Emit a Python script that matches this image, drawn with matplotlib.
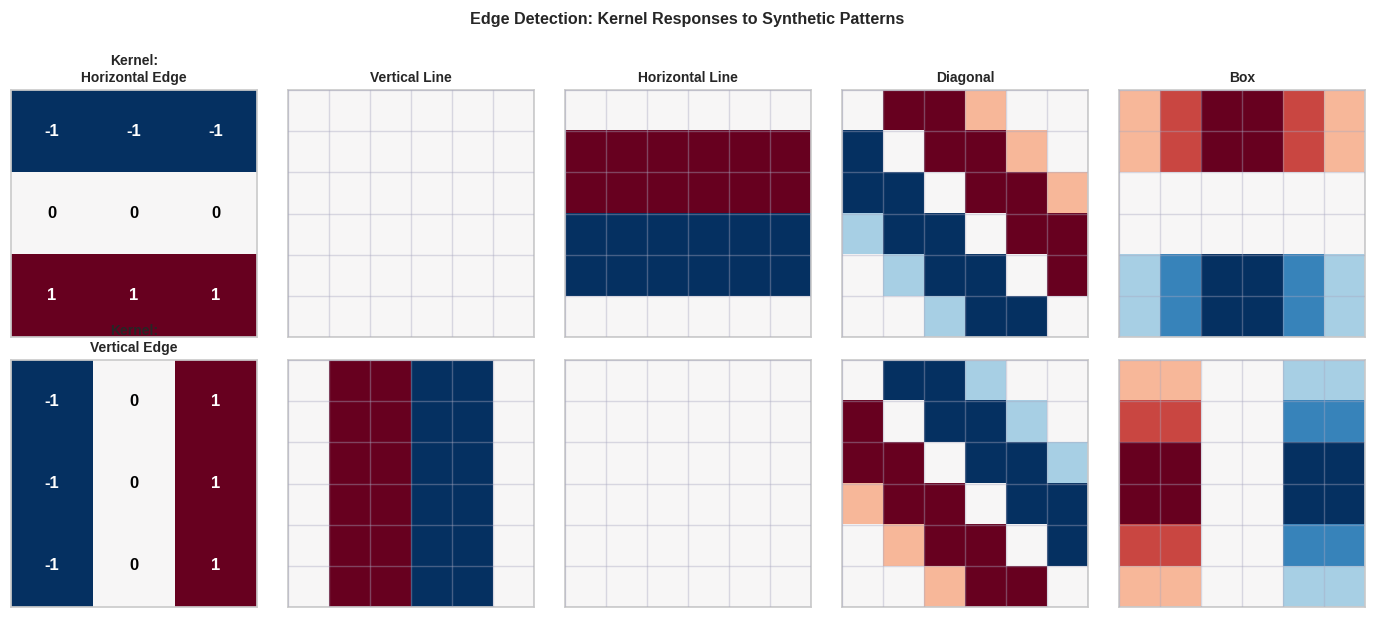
import numpy as np
import matplotlib
matplotlib.use("Agg")
import matplotlib.pyplot as plt
import seaborn as sns

sns.set_style("whitegrid")
plt.rcParams['font.family'] = ['Liberation Sans', 'DejaVu Sans']

# kernels
k_horizontal = np.array([[-1, -1, -1],
                         [0, 0, 0],
                         [1, 1, 1]])
k_vertical = np.array([[-1, 0, 1],
                       [-1, 0, 1],
                       [-1, 0, 1]])
kernel_titles = ["Kernel:\nHorizontal Edge", "Kernel:\nVertical Edge"]

pattern_names = ["Vertical Line", "Horizontal Line", "Diagonal", "Box"]

# responses to the horizontal edge kernel (6x6)
h_vline = np.zeros((6, 6))
h_hline = np.array([[0, 0, 0, 0, 0, 0],
                    [3, 3, 3, 3, 3, 3],
                    [3, 3, 3, 3, 3, 3],
                    [-3, -3, -3, -3, -3, -3],
                    [-3, -3, -3, -3, -3, -3],
                    [0, 0, 0, 0, 0, 0]])
h_diag = np.array([[0, 3, 3, 1, 0, 0],
                   [-3, 0, 3, 3, 1, 0],
                   [-3, -3, 0, 3, 3, 1],
                   [-1, -3, -3, 0, 3, 3],
                   [0, -1, -3, -3, 0, 3],
                   [0, 0, -1, -3, -3, 0]])
h_box = np.array([[1, 2, 3, 3, 2, 1],
                  [1, 2, 3, 3, 2, 1],
                  [0, 0, 0, 0, 0, 0],
                  [0, 0, 0, 0, 0, 0],
                  [-1, -2, -3, -3, -2, -1],
                  [-1, -2, -3, -3, -2, -1]])

# responses to the vertical edge kernel (6x6)
v_vline = np.array([[0, 3, 3, -3, -3, 0]] * 6)
v_hline = np.zeros((6, 6))
v_diag = np.array([[0, -3, -3, -1, 0, 0],
                   [3, 0, -3, -3, -1, 0],
                   [3, 3, 0, -3, -3, -1],
                   [1, 3, 3, 0, -3, -3],
                   [0, 1, 3, 3, 0, -3],
                   [0, 0, 1, 3, 3, 0]])
v_box = np.array([[1, 1, 0, 0, -1, -1],
                  [2, 2, 0, 0, -2, -2],
                  [3, 3, 0, 0, -3, -3],
                  [3, 3, 0, 0, -3, -3],
                  [2, 2, 0, 0, -2, -2],
                  [1, 1, 0, 0, -1, -1]])

kernels = [k_horizontal, k_vertical]
responses = [[h_vline, h_hline, h_diag, h_box],
             [v_vline, v_hline, v_diag, v_box]]

fig, axes = plt.subplots(2, 5, figsize=(13.74, 6.17), dpi=100)
plt.subplots_adjust(left=0.008, right=0.9934, top=0.8541, bottom=0.0162,
                    wspace=0.126, hspace=0.093)

for r in range(2):
    ax = axes[r, 0]
    k = kernels[r]
    ax.imshow(k, cmap="RdBu_r", vmin=-1, vmax=1, aspect="auto")
    for i in range(3):
        for j in range(3):
            v = k[i, j]
            ax.text(j, i, f"{v}", ha="center", va="center", fontsize=12,
                    fontweight="bold", color="white" if abs(v) > 0.5 else "black")
    ax.set_title(kernel_titles[r], fontsize=10, fontweight="bold")
    ax.set_xticks([])
    ax.set_yticks([])
    ax.grid(False)

    for c in range(4):
        ax = axes[r, c + 1]
        ax.imshow(responses[r][c], cmap="RdBu_r", vmin=-3, vmax=3, aspect="auto")
        ax.set_xticks(np.arange(-0.5, 6, 1))
        ax.set_yticks(np.arange(-0.5, 6, 1))
        ax.set_xticklabels([])
        ax.set_yticklabels([])
        ax.tick_params(length=0)
        ax.grid(True, color="#a8a8c0", alpha=0.4, linewidth=1)
        ax.set_axisbelow(False)
        if r == 0:
            ax.set_title(pattern_names[c], fontsize=10, fontweight="bold")

for ax in axes.flat:
    for s in ax.spines.values():
        s.set_color("#cccccc")
        s.set_linewidth(1.25)

fig.suptitle("Edge Detection: Kernel Responses to Synthetic Patterns",
             fontsize=11.6, fontweight="bold", y=0.981)

plt.savefig("out.png", dpi=100)
